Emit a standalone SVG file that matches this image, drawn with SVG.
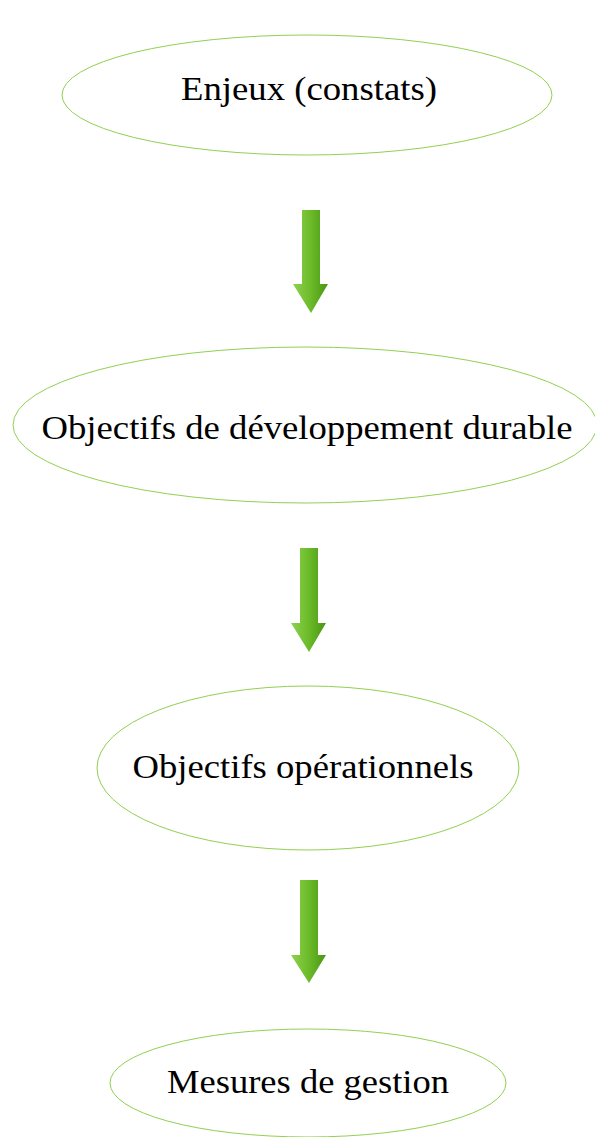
<svg xmlns="http://www.w3.org/2000/svg" width="595" height="1137" viewBox="0 0 595 1137">
<defs>
<linearGradient id="g" x1="0" y1="0" x2="1" y2="0">
<stop offset="0" stop-color="#8fd14f"/>
<stop offset="0.5" stop-color="#6cbb2a"/>
<stop offset="1" stop-color="#4a9612"/>
</linearGradient>
<style>
.n{fill:#fff;stroke:#92d050;stroke-width:1}
.t{font-family:"Liberation Serif","DejaVu Serif",serif;font-size:33px;fill:#000;text-anchor:middle}
.a{fill:url(#g)}
</style>
</defs>
<rect width="595" height="1137" fill="#fff"/>
<g id="connectors">
<path class="a" d="M302,210 H320 V284 H328 L311,313 L293,284 H302 Z"/>
<path class="a" d="M300,548 H318 V623 H326 L309,652 L291,623 H300 Z"/>
<path class="a" d="M300,880 H318 V955 H326 L309,983 L291,955 H300 Z"/>
</g>
<g id="n1">
<ellipse class="n" cx="307" cy="95" rx="245" ry="60"/>
<text class="t" x="309" y="100" textLength="256" lengthAdjust="spacingAndGlyphs">Enjeux (constats)</text>
</g>
<g id="n2">
<ellipse class="n" cx="305" cy="425" rx="292" ry="78"/>
<text class="t" x="307" y="439" textLength="531" lengthAdjust="spacingAndGlyphs">Objectifs de développement durable</text>
</g>
<g id="n3">
<ellipse class="n" cx="308" cy="768" rx="211" ry="82"/>
<text class="t" x="303" y="778" textLength="341" lengthAdjust="spacingAndGlyphs">Objectifs opérationnels</text>
</g>
<g id="n4">
<ellipse class="n" cx="308" cy="1083" rx="198" ry="54"/>
<text class="t" x="308" y="1093" textLength="282" lengthAdjust="spacingAndGlyphs">Mesures de gestion</text>
</g>
</svg>
